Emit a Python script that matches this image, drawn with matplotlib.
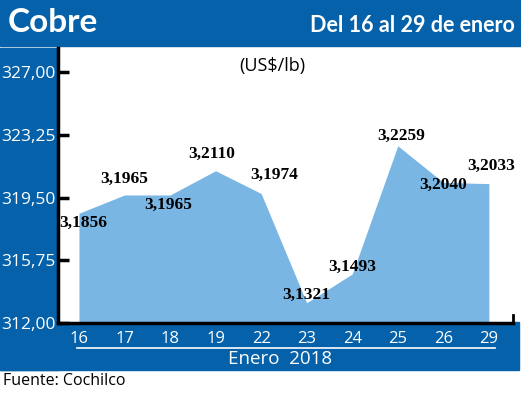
import numpy as np
import matplotlib.pyplot as plt
from matplotlib.patches import Rectangle

# data (cUS$/lb)
dias = ['16', '17', '18', '19', '22', '23', '24', '25', '26', '29']
precios = [318.56, 319.65, 319.65, 321.10, 319.74, 313.21, 314.93, 322.59, 320.40, 320.33]
etiquetas = ['3,1856', '3,1965', '3,1965', '3,2110', '3,1974',
             '3,1321', '3,1493', '3,2259', '3,2040', '3,2033']
yticks = [312.00, 315.75, 319.50, 323.25, 327.00]
ytick_labels = ['312,00', '315,75', '319,50', '323,25', '327,00']

azul = '#0561a9'
celeste = '#7ab6e3'
W, H = 521, 393

fig = plt.figure(figsize=(W / 100, H / 100), dpi=100)
fig.patch.set_facecolor('white')

def rect(x0, y0, x1, y1, c):
    # pixel coords, y from top
    fig.patches.append(Rectangle((x0 / W, 1 - y1 / H), (x1 - x0) / W, (y1 - y0) / H,
                                 transform=fig.transFigure, color=c, zorder=-5))

rect(0, 0, W, 46, azul)        # header
rect(0, 48, 58, 370, azul)     # left column
rect(0, 322, 519, 370, azul)   # bottom band

fig.text(8 / W, 1 - 23 / H, 'Cobre', color='white', fontsize=24, fontweight='bold',
         family='Lato', va='center', ha='left')
fig.text(515 / W, 1 - 25 / H, 'Del 16 al 29 de enero', color='white', fontsize=15.5,
         fontweight='bold', family='Lato', va='center', ha='right')

# axes: spine bottom at y=323px, 312 -> 323, 327 -> 72
px_unit = (323 - 72) / 15.0
top_px = 48
ax = fig.add_axes([58 / W, 1 - 323 / H, (513 - 58) / W, (323 - top_px) / H])
ax.set_facecolor('white')
ax.set_zorder(1)
x = np.arange(len(dias))
ax.fill_between(x, 312, precios, color=celeste, lw=0, zorder=1)
ax.set_ylim(312, 327 + (72 - top_px) / px_unit)
ax.set_xlim(-0.46, 9.53)

for s in ['top', 'right']:
    ax.spines[s].set_visible(False)
ax.spines['left'].set_linewidth(2.5)
ax.spines['bottom'].set_linewidth(2.5)
ax.spines['left'].set_zorder(3)
ax.spines['bottom'].set_zorder(3)

ax.set_yticks(yticks)
ax.set_yticklabels(ytick_labels)
ax.tick_params(axis='y', direction='in', length=8, width=2.5, colors='black',
               labelcolor='white', labelsize=12.5, pad=2)
for t in ax.get_yticklabels():
    t.set_family('Open Sans')
ax.set_xticks(x)
ax.set_xticklabels(dias)
ax.tick_params(axis='x', length=0, labelcolor='white', labelsize=12, pad=6)
for t in ax.get_xticklabels():
    t.set_family('Open Sans')

# small end tick at right of bottom spine
ax.plot([9.53, 9.53], [312, 312.45], color='black', lw=2, clip_on=False, zorder=3)

# label offsets (dx in days, dy in cents)
offs = [(0.1, -0.55), (0, 0.95), (-0.04, -0.6), (-0.09, 1.0), (0.29, 1.1),
        (0, 0.45), (0, 0.45), (0.08, 0.6), (0, -0.15), (0.05, 1.05)]
for i, (v, lab) in enumerate(zip(precios, etiquetas)):
    dx, dy = offs[i]
    ax.text(i + dx, v + dy, lab, ha='center', va='center', fontsize=12.5,
            fontweight='bold', family='Liberation Serif', zorder=4)

ax.text(4.25, 327.35, '(US$/lb)', ha='center', va='center', fontsize=13, family='Open Sans')

# line + xlabel in bottom band
fig.lines.append(plt.Line2D([77 / W, 495 / W], [1 - 348 / H, 1 - 348 / H],
                            transform=fig.transFigure, color='white', lw=1.2))
fig.text(280 / W, 1 - 359 / H, 'Enero  2018', color='white', fontsize=13.5,
         family='Open Sans', ha='center', va='center')
fig.text(3 / W, 1 - 381 / H, 'Fuente: Cochilco', color='black', fontsize=11.5,
         family='Open Sans', ha='left', va='center')

fig.savefig('out.png', dpi=100)
